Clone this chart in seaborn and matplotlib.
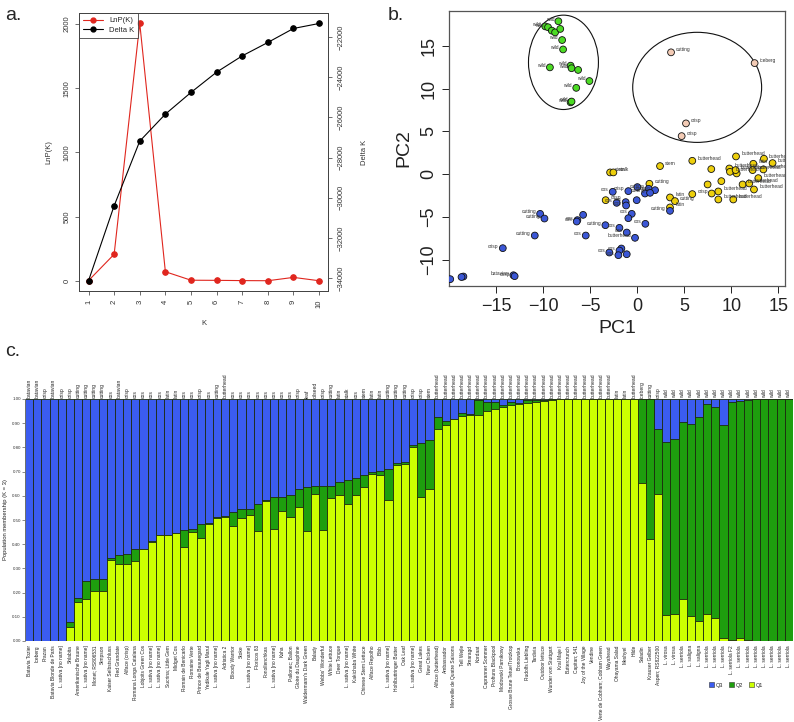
import numpy as np
import pandas as pd
import matplotlib
matplotlib.use("Agg")
import matplotlib.pyplot as plt
import seaborn as sns
from matplotlib.patches import Ellipse, Patch
from matplotlib.lines import Line2D

# ---------------- data : panel a ----------------
K = [1, 2, 3, 4, 5, 6, 7, 8, 9, 10]
lnp_k = [1, 206, 2005, 70, 4, 3, 1, 0, 26, 0]
delta_k = [-34119, -30394, -27181, -25840, -24762, -23754, -22945, -22279, -21584, -21336]

# ---------------- data : panel b ----------------
wild_pc1 = [-8.4, -9.8, -9.5, -9.1, -8.75, -8.2, -8.0, -7.9, -9.3, -7.1, -7.0, -6.3, -5.1, -6.5, -7.1, -7.0]
wild_pc2 = [17.9, 17.3, 17.2, 16.8, 16.6, 17.0, 15.7, 14.6, 12.5, 12.7, 12.4, 12.2, 10.9, 10.1, 8.4, 8.5]
wild_lab = ["wild", "wild", "wild", "", "", "", "wild", "wild", "wild", "wild", "wild", "", "wild", "wild", "wild", "wild"]

peach_pc1 = [3.58, 12.47, 5.17, 4.71]
peach_pc2 = [14.26, 13.0, 5.94, 4.45]
peach_lab = ["cutting", "iceberg", "crisp", "crisp"]

yel_pc1 = [5.84, 10.49, 13.46, 14.38, 12.33, 9.78, 7.86, 9.85, 10.56, 10.45, 12.26, 13.40, 2.41, -2.90, -2.55,
           12.86, 8.93, 7.47, 11.19, 11.90, 8.61, 7.90, 12.40, 5.84, 8.61, 10.20, 1.28, -3.37, 3.47, 4.00, 3.47]
yel_pc2 = [1.56, 2.07, 1.80, 1.29, 1.21, 0.66, 0.59, 0.27, 0.08, 0.47, 0.47, 0.55, 0.94, 0.20, 0.20,
           -0.47, -0.82, -1.21, -1.21, -1.09, -2.03, -2.27, -1.80, -2.34, -2.97, -2.97, -1.13, -3.05, -2.73, -3.16, -3.90]
yel_lab = ["butterhead", "butterhead", "butterhead", "butterhead", "latin", "butterhead", "", "butterhead", "",
           "butterhead", "butterhead", "butterhead", "stem", "stem", "stalk", "butterhead", "", "", "butterhead",
           "butterhead", "butterhead", "", "butterhead", "crisp", "butterhead", "butterhead", "cutting", "crisp",
           "latin", "cutting", "latin"]

blue_pc1 = [0.00, 1.20, 1.88, 0.81, 1.35, -0.96, -2.62, -2.20, -1.24, -1.20, -0.07, -0.60, -0.96, -5.77, -6.38,
            -6.45, -10.34, -9.88, -3.40, -1.91, 0.85, -1.13, -5.49, -10.91, -0.25, -1.70, -1.90, -2.98, -2.02,
            -1.13, -14.31, -13.18, -13.05, -18.50, -18.70, -19.90, 3.47]
blue_pc2 = [-1.52, -1.72, -1.88, -2.27, -2.19, -1.99, -2.07, -3.36, -3.28, -3.67, -3.05, -4.65, -5.16, -4.77, -5.39,
            -5.55, -4.65, -5.20, -5.98, -6.29, -5.82, -6.84, -7.19, -7.19, -7.46, -8.71, -8.95, -9.18, -9.49,
            -9.38, -8.67, -11.84, -11.95, -11.99, -12.05, -12.30, -4.30]
blue_lab = ["", "cutting", "cutting", "", "cutting", "crisp", "cos", "cos", "cos", "cos", "", "cos", "", "", "cos",
            "cos", "cutting", "cutting", "cutting", "cos", "cos", "cos", "cos", "cutting", "butterhead", "", "cos",
            "cos", "cos", "", "crisp", "batavian", "crisp", "", "", "batavian", "cutting"]

# ---------------- data : panel c ----------------
top_labels = (["batavian", "batavian", "crisp", "batavian", "crisp", "crisp", "cutting", "cutting", "cutting",
               "cutting", "cos", "batavian", "crisp", "cos", "cos", "cos", "cos", "latin", "latin", "cos", "cos",
               "crisp", "cos", "cutting", "butterhead", "cos", "cos", "cos", "cos", "cos", "cos", "cos", "cos",
               "crisp", "leaf", "oilseed", "crisp", "cutting", "latin", "stalk", "cos", "stem", "latin", "latin",
               "cutting", "cutting", "cutting", "crisp", "crisp", "stem"]
              + ["butterhead"] * 22 + ["latin", "latin", "butterhead", "iceberg", "cutting", "crisp"]
              + ["wild"] * 16)
accessions = ["Batavia Tozier", "Iceberg", "Prazan", "Batavia Blonde de Paris", "L. sativa [no name]", "Shlabita",
              "Amerikanische Braune", "L. sativa [no name]", "Monet; RS806531", "Simpson", "Kaiser Selbstschluss",
              "Red Grandate", "Alface (crisp)", "Romana Longa Catalana", "Lobjoits Green Cos",
              "L. sativa [no name]", "L. sativa [no name]", "Sucrina; Little Gem", "Midget Cos",
              "Romain de Benicarlo", "Romaine Verte", "Prince de Beauregard", "Yedikule Yagli Marul",
              "L. sativa [no name]", "Adriatica 2", "Bloody Warrior", "Stoke", "L. sativa [no name]", "Floricos 83",
              "Fonollenchkas", "L. sativa [no name]", "Kaha", "Pallonec; Ballon", "Gloire du Dauphine",
              "Waldermann's Dark Green", "Balady", "Webbs' Wonderful", "White Lettuce", "Deer Tongue",
              "L. sativa [no name]", "Kakichaba White", "Chinese Stem Lettuce", "Alface Repolho", "Bibb",
              "L. sativa [no name]", "Hohlbuttringer Butter", "Oak Leaf", "L. sativa [no name]", "Great Lakes",
              "New Chicken", "Alface (butterhead)", "Ambassador", "Merveille de Quatre Saisons", "Tell Wejle",
              "Smaragd", "Kordaat", "Capranner Sommer", "Proftuns Blackpool", "Modowski Parnikowy",
              "Grosse Brune Tetue/Trotzkop", "Bronowska", "Rudolfs Liebling", "Tardivia", "Outdoor lettuce",
              "Wunder von Stuttgart", "Kral Maje I", "Buttercrunch", "Capitan; 541", "Joy of the Village",
              "Vendine", "Verte de Cobham; Cobham Green", "Wayahead", "Ohayama Salad", "Meshyel", "Hilde",
              "Saladin", "Krauser Gelber", "Aspen; RS822500", "L. virosa", "L. virosa", "L. serriola",
              "L. saligna", "L. saligna", "L. serriola", "L. serriola", "L. serriola", "L. serriola F2",
              "L. serriola", "L. serriola", "L. serriola", "L. serriola", "L. serriola", "L. serriola",
              "L. serriola"]
q1 = [0, 0, 0, 0, 0, 0.057, 0.160, 0.172, 0.208, 0.208, 0.335, 0.317, 0.317, 0.331, 0.379, 0.410, 0.438, 0.438,
      0.445, 0.390, 0.452, 0.427, 0.482, 0.507, 0.514, 0.474, 0.507, 0.522, 0.456, 0.577, 0.461, 0.538, 0.514,
      0.552, 0.453, 0.606, 0.459, 0.592, 0.602, 0.566, 0.602, 0.635, 0.691, 0.687, 0.581, 0.727, 0.730, 0.800,
      0.596, 0.628, 0.877, 0.894, 0.916, 0.930, 0.933, 0.933, 0.949, 0.957, 0.966, 0.975, 0.981, 0.985, 0.988,
      0.990, 0.996, 0.998, 0.999, 0.999, 1.0, 1.0, 1.0, 0.999, 1.0, 1.0, 1.0, 0.652, 0.420, 0.607, 0.107, 0.110,
      0.174, 0.103, 0.083, 0.110, 0.095, 0.012, 0.005, 0.012, 0.003, 0.0, 0.0, 0.0, 0.0, 0.0]
q2 = [0, 0, 0, 0, 0, 0.020, 0.016, 0.078, 0.049, 0.049, 0.007, 0.037, 0.041, 0.050, 0.002, 0.003, 0.002, 0.002,
      0.003, 0.067, 0.011, 0.055, 0.007, 0.007, 0.003, 0.059, 0.037, 0.022, 0.109, 0.006, 0.135, 0.058, 0.088,
      0.076, 0.182, 0.034, 0.183, 0.050, 0.055, 0.098, 0.070, 0.052, 0.007, 0.017, 0.131, 0.007, 0.010, 0.011,
      0.221, 0.201, 0.047, 0.015, 0.003, 0.011, 0.004, 0.063, 0.037, 0.029, 0.008, 0.014, 0.004, 0.010, 0.007,
      0.006, 0.002, 0.001, 0.001, 0.001, 0.0, 0.0, 0.0, 0.001, 0.0, 0.0, 0.0, 0.348, 0.580, 0.268, 0.714, 0.725,
      0.730, 0.795, 0.841, 0.870, 0.871, 0.881, 0.981, 0.978, 0.992, 1.0, 1.0, 1.0, 1.0, 1.0]
q3 = [1.0, 1.0, 1.0, 1.0, 1.0, 0.923, 0.824, 0.750, 0.743, 0.743, 0.658, 0.646, 0.642, 0.619, 0.619, 0.587, 0.560,
      0.560, 0.552, 0.543, 0.537, 0.518, 0.511, 0.486, 0.483, 0.467, 0.456, 0.456, 0.435, 0.417, 0.404, 0.404,
      0.398, 0.372, 0.365, 0.360, 0.358, 0.358, 0.343, 0.336, 0.328, 0.313, 0.302, 0.296, 0.288, 0.266, 0.260,
      0.189, 0.183, 0.171, 0.076, 0.091, 0.081, 0.059, 0.063, 0.004, 0.014, 0.014, 0.026, 0.011, 0.015, 0.005,
      0.005, 0.004, 0.002, 0.001, 0.0, 0.0, 0.0, 0.0, 0.0, 0.0, 0.0, 0.0, 0.0, 0.0, 0.0, 0.125, 0.179, 0.165,
      0.096, 0.102, 0.076, 0.020, 0.034, 0.107, 0.014, 0.010, 0.005, 0.0, 0.0, 0.0, 0.0, 0.0]

# ---------------- styling ----------------
sns.set_theme(style="white")
plt.rcParams['font.family'] = ['Liberation Sans', 'DejaVu Sans']
C_BLUE = '#3B5CF0'
C_GREEN = '#1E9E0E'
C_YEL = '#CCFF00'

fig = plt.figure(figsize=(7.94, 7.22), dpi=100)
W, H = 794.0, 722.0


def axes_px(l, t, r, b):
    return fig.add_axes([l / W, 1 - b / H, (r - l) / W, (b - t) / H])

# ---------------- panel a ----------------
axa = axes_px(79.3, 13.3, 328.3, 291)
sns.lineplot(x=K, y=lnp_k, ax=axa, color='#E0261E', marker='o', markersize=4,
             markeredgecolor='#E0261E', linewidth=0.8)
axa2 = axa.twinx()
sns.lineplot(x=K, y=delta_k, ax=axa2, color='black', marker='o', markersize=4,
             markeredgecolor='black', linewidth=0.8)
axa.set_xlim(0.64, 10.36)
axa.set_ylim(-80, 2083)
axa2.set_ylim(-34630, -20830)
axa.set_xticks(K)
axa.set_yticks([0, 500, 1000, 1500, 2000])
axa2.set_yticks([-34000, -32000, -30000, -28000, -26000, -24000, -22000])
for a in (axa, axa2):
    for s in a.spines.values():
        s.set_color('#444444')
        s.set_linewidth(0.7)
axa.tick_params(axis='x', labelsize=5.5, labelrotation=90, length=3, width=0.5, colors='#333333', bottom=True)
axa.tick_params(axis='y', labelsize=5.5, labelrotation=90, length=3, width=0.5, colors='#333333', left=True)
axa2.tick_params(axis='y', labelsize=5.5, labelrotation=90, length=3, width=0.5, colors='#333333', right=True)
for lab in axa.get_yticklabels() + axa2.get_yticklabels():
    lab.set_va('center')
axa.set_xlabel('K', fontsize=5.5, color='#333333', labelpad=8)
axa.set_ylabel('LnP(K)', fontsize=5.5, color='#333333', labelpad=8)
axa2.set_ylabel('Delta K', fontsize=5.5, color='#333333', labelpad=12)
handles = [Line2D([], [], color='#E0261E', marker='o', markersize=3.5, lw=0.8),
           Line2D([], [], color='black', marker='o', markersize=3.5, lw=0.8)]
leg = axa.legend(handles, ['LnP(K)', 'Delta K'], loc='upper left', fontsize=5.5, frameon=True,
                 fancybox=False, borderaxespad=0, handlelength=2.6, borderpad=0.5, labelspacing=0.3)
leg.get_frame().set_edgecolor('#333333')
leg.get_frame().set_linewidth(0.7)
fig.text(5 / W, 1 - 15 / H, 'a.', fontsize=14, va='center', ha='left')

# ---------------- panel b ----------------
axb = axes_px(449.3, 11, 785, 286)
dfb = pd.DataFrame({
    'pc1': wild_pc1 + peach_pc1 + yel_pc1 + blue_pc1,
    'pc2': wild_pc2 + peach_pc2 + yel_pc2 + blue_pc2,
    'label': wild_lab + peach_lab + yel_lab + blue_lab,
    'group': (['wild'] * len(wild_pc1) + ['peach'] * len(peach_pc1) +
              ['yellow'] * len(yel_pc1) + ['blue'] * len(blue_pc1)),
})
pal = {'wild': '#4CDB24', 'peach': '#F3CBB5', 'yellow': '#EDCF0C', 'blue': '#3B57D6'}
sns.scatterplot(data=dfb, x='pc1', y='pc2', hue='group', palette=pal, s=24, edgecolor='#111111',
                linewidth=0.6, legend=False, ax=axb, zorder=3)
for _, r in dfb.iterrows():
    if not r['label']:
        continue
    if r['group'] in ('wild', 'blue'):
        t = axb.text(r['pc1'] - 0.45, r['pc2'] + 0.25, r['label'], fontsize=3.5, ha='right', va='center',
                     color='#333333', zorder=4)
    else:
        t = axb.text(r['pc1'] + 0.55, r['pc2'] + 0.3, r['label'], fontsize=3.5, ha='left', va='center',
                     color='#333333', zorder=4)
    t.set_clip_on(True)
axb.add_patch(Ellipse((-7.86, 13.09), 7.44, 11.05, fill=False, edgecolor='#111111', lw=0.8))
axb.add_patch(Ellipse((6.36, 10.16), 13.71, 12.89, fill=False, edgecolor='#111111', lw=0.8))
axb.set_xlim(-20, 15.7)
axb.set_ylim(-13.1, 19.1)
axb.set_xticks([-15, -10, -5, 0, 5, 10, 15])
axb.set_yticks([-10, -5, 0, 5, 10, 15])
axb.tick_params(axis='both', labelsize=13, length=5, width=0.7, colors='#222222', bottom=True, left=True)
axb.tick_params(axis='y', labelrotation=90)
for lab in axb.get_yticklabels():
    lab.set_va('center')
for s in axb.spines.values():
    s.set_color('#555555')
    s.set_linewidth(0.9)
axb.set_xlabel('PC1', fontsize=14, color='#222222', labelpad=4)
axb.set_ylabel('PC2', fontsize=14, color='#222222', labelpad=6)
fig.text(388 / W, 1 - 15 / H, 'b.', fontsize=14, va='center', ha='left')

# ---------------- panel c ----------------
axc = axes_px(25, 399, 793, 641)
n = len(q1)
dfc = pd.DataFrame({'idx': list(range(n)), 'q1': q1, 'q2': q2, 'q3': q3})
dfc['c12'] = dfc['q1'] + dfc['q2']
dfc['c123'] = dfc['c12'] + dfc['q3']
common = dict(x='idx', width=1.0, edgecolor='#1c2a10', linewidth=0.6, saturation=1, errorbar=None, ax=axc)
sns.barplot(data=dfc, y='c123', color=C_BLUE, **common)
sns.barplot(data=dfc, y='c12', color=C_GREEN, **common)
sns.barplot(data=dfc, y='q1', color=C_YEL, **common)
axc.set_xlim(-0.5, n - 0.5)
axc.set_ylim(0, 1.0)
axc.set_yticks(np.round(np.arange(0, 1.01, 0.1), 2))
axc.set_yticklabels([f'{v:.2f}' for v in np.arange(0, 1.01, 0.1)])
axc.tick_params(axis='y', labelsize=3.2, length=2, width=0.4, colors='#333333', left=True, pad=1)
axc.set_xticks(range(n))
axc.set_xticklabels(accessions, rotation=90, fontsize=3.5, color='#222222')
axc.tick_params(axis='x', length=0, pad=3)
for lab in axc.get_xticklabels():
    lab.set_va('top')
for i, t in enumerate(top_labels):
    axc.text(i, 1.006, t, rotation=90, fontsize=3.6, ha='center', va='bottom', color='#222222')
for s in ('top', 'right', 'bottom'):
    axc.spines[s].set_visible(False)
axc.spines['left'].set_color('#888888')
axc.spines['left'].set_linewidth(0.5)
axc.set_xlabel('')
axc.set_ylabel('Population membership (K = 3)', fontsize=4.2, color='#222222', labelpad=3)
fig.text(5 / W, 1 - 352 / H, 'c.', fontsize=14, va='center', ha='left')
lh = [Patch(facecolor=C_BLUE, edgecolor='#333333', lw=0.4),
      Patch(facecolor=C_GREEN, edgecolor='#333333', lw=0.4),
      Patch(facecolor=C_YEL, edgecolor='#333333', lw=0.4)]
fig.legend(lh, ['Q3', 'Q2', 'Q1'], loc='center', bbox_to_anchor=(736 / W, 1 - 685 / H), ncol=3, fontsize=4,
           frameon=False, handlelength=0.8, handleheight=0.8, handletextpad=0.3, columnspacing=1.2)

fig.savefig('out.png', dpi=100)
